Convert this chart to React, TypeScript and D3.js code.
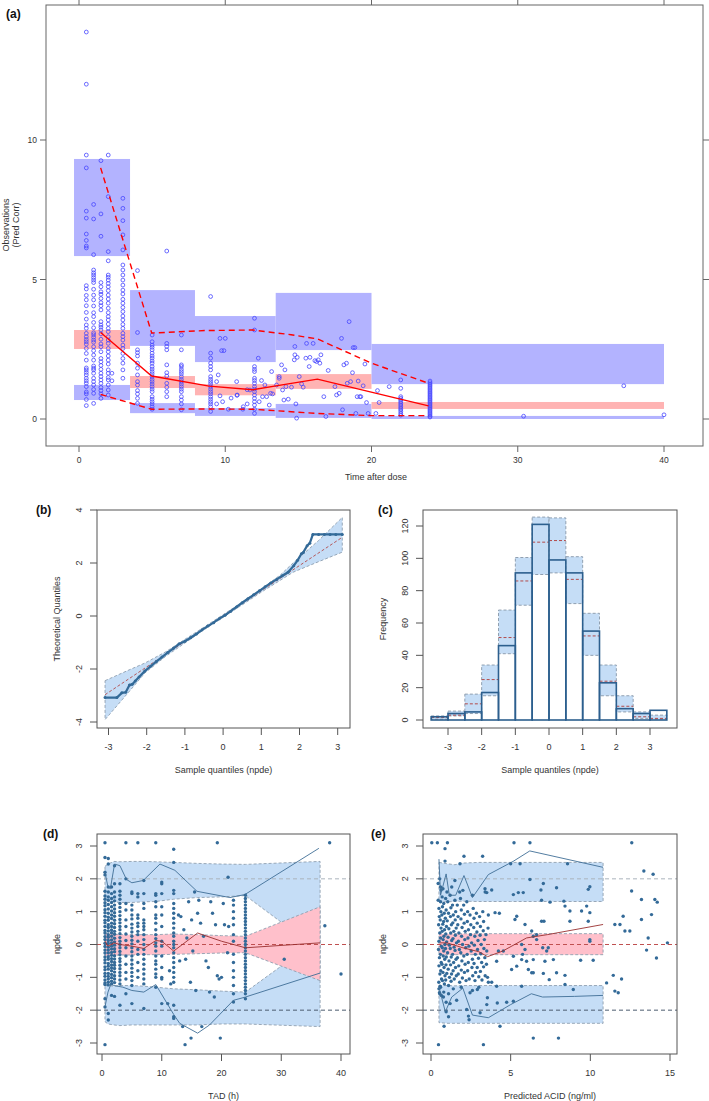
import * as d3 from "d3";

const FONT = "'Liberation Sans', Arial, Helvetica, sans-serif";
const NARROW = "'Liberation Sans Narrow', 'Liberation Sans', Arial, sans-serif";

// ---------- panel (a): prediction-corrected VPC ----------
const aTicksX = [0, 10, 20, 30, 40];
const aTicksY = [0, 5, 10];
const aBinStart = [-0.34, 3.49, 7.93, 13.45, 20.0];
const aBinEnd = [3.49, 7.93, 13.45, 20.0, 40.0];
const aUpperPI = [[5.84, 9.32], [2.62, 4.62], [2.04, 3.69], [2.47, 4.52], [1.25, 2.69]];
const aMedianPI = [[2.51, 3.19], [1.11, 1.54], [0.85, 1.25], [1.08, 1.61], [0.36, 0.61]];
const aLowerPI = [[0.68, 1.22], [0.21, 0.57], [0.11, 0.39], [0.04, 0.54], [0.0, 0.11]];
const aObsMedian = [[1.48, 3.1], [3.0, 2.42], [4.97, 1.54], [8.9, 1.18], [11.9, 1.05], [14.2, 1.25], [16.3, 1.43], [21.9, 0.72], [23.9, 0.47]];
const aObsUpper = [[1.48, 9.0], [4.97, 3.08], [8.6, 3.17], [11.9, 3.19], [14.5, 3.02], [16.3, 2.87], [20.0, 2.0], [23.9, 1.28]];
const aObsLower = [[1.48, 0.88], [4.97, 0.35], [8.6, 0.36], [11.9, 0.35], [16.3, 0.2], [20.0, 0.12], [23.9, 0.12]];
const aColTimes = [0.5, 1, 1.5, 2, 3, 4, 5, 6, 7, 9, 12, 22, 24];
const aColValues = [
  [13.87, 12.0, 9.46, 9.0, 7.45, 7.2, 6.63, 6.4, 6.2, 6.13, 4.78, 4.66, 4.43, 4.27, 4.06, 3.82, 3.58, 3.37, 3.25, 3.07, 2.95, 2.85, 2.77, 2.68, 2.53, 2.35, 2.11, 1.83, 1.76, 1.67, 1.58, 1.46, 1.37, 1.28, 1.16, 0.97, 0.9, 0.7, 0.48],
  [7.69, 7.17, 5.89, 5.34, 5.24, 5.16, 5.07, 4.98, 4.89, 4.65, 4.44, 4.27, 4.05, 3.81, 3.67, 3.46, 3.27, 3.09, 3.02, 2.93, 2.83, 2.75, 2.59, 2.45, 2.29, 2.11, 1.9, 1.82, 1.76, 1.64, 1.46, 1.34, 1.22, 1.06, 0.92, 0.56],
  [9.26, 7.35, 6.55, 4.89, 4.74, 4.56, 4.47, 4.32, 4.17, 4.06, 3.91, 3.49, 3.37, 3.29, 3.19, 3.05, 2.86, 2.69, 2.59, 2.41, 2.17, 2.05, 1.92, 1.78, 1.64, 1.52, 1.4, 1.28, 1.13, 1.02, 0.9, 0.74],
  [9.46, 7.97, 6.0, 5.67, 5.16, 5.08, 4.98, 4.86, 4.74, 4.6, 4.44, 4.3, 4.15, 3.97, 3.81, 3.67, 3.55, 3.4, 3.25, 3.13, 2.95, 2.83, 2.71, 2.53, 2.41, 2.26, 2.11, 1.97, 1.76, 1.64, 1.49, 1.4, 1.22, 1.04, 0.86],
  [7.91, 7.55, 7.11, 6.6, 6.06, 5.52, 5.34, 5.16, 4.98, 4.8, 4.62, 4.48, 4.29, 4.15, 4.0, 3.85, 3.69, 3.55, 3.39, 3.25, 3.07, 2.95, 2.83, 2.65, 2.53, 2.35, 2.17, 2.0, 1.76, 1.46],
  [5.32, 3.1, 2.48, 2.38, 2.26, 2.0, 1.82, 1.58, 1.34, 1.22, 1.02, 0.9, 0.74, 0.56],
  [3.01, 2.77, 2.65, 2.57, 2.48, 2.36, 2.26, 2.18, 2.08, 2.0, 1.88, 1.79, 1.7, 1.62, 1.52, 1.42, 1.34, 1.25, 1.16, 1.07, 0.98, 0.8, 0.71, 0.62, 0.54, 0.44, 0.35],
  [6.02, 2.71, 2.6, 2.48, 1.94, 1.66, 1.54, 1.28, 1.14, 0.98, 0.8],
  [3.01, 2.48, 1.94, 1.88, 1.78, 1.7, 1.62, 1.52, 1.42, 1.34, 1.25, 1.16, 1.07, 0.98, 0.8, 0.68, 0.54, 0.33],
  [4.39, 2.36, 2.18, 2.0, 1.88, 1.76, 1.52, 1.42, 1.34, 1.26, 1.16, 1.07, 0.98, 0.9, 0.8, 0.71, 0.62, 0.54, 0.44, 0.27],
  [3.61, 3.19, 1.88, 1.78, 1.7, 1.46, 1.38, 1.28, 1.16, 1.07, 0.98, 0.86, 0.74, 0.62, 0.5, 0.35, 0.2],
  [1.4, 1.1, 0.8, 0.74, 0.68, 0.62, 0.56, 0.5, 0.44, 0.38, 0.33, 0.27, 0.2, 0.14],
  [1.36, 1.3, 1.25, 1.2, 1.15, 1.1, 1.05, 1.0, 0.95, 0.9, 0.85, 0.8, 0.75, 0.7, 0.65, 0.6, 0.55, 0.5, 0.45, 0.4, 0.35, 0.3, 0.25, 0.2, 0.15, 0.1, 0.07],
];
const aScatter = [
  [2.25, 1.37], [2.25, 1.64], [9.64, 2.89], [9.75, 2.45], [9.91, 2.45], [9.52, 1.58], [9.41, 1.34], [9.64, 0.83], [9.41, 0.54], [9.82, 0.62],
  [10.21, 0.35], [10.78, 1.34], [10.82, 0.86], [11.23, 0.44], [11.5, 0.54], [11.69, 1.04], [12.32, 0.62], [12.26, 2.18], [12.48, 1.38], [12.55, 0.8],
  [12.71, 1.22], [12.83, 0.8], [13.01, 0.5], [13.1, 0.92], [13.17, 1.7], [13.24, 0.9], [13.51, 1.22], [13.69, 1.46], [13.85, 1.94], [13.92, 1.04],
  [14.08, 1.76], [14.15, 1.16], [14.31, 0.71], [14.53, 1.14], [14.76, 2.6], [14.76, 2.3], [14.92, 2.21], [14.72, 2.12], [15.06, 1.52], [15.22, 1.26],
  [15.33, 1.14], [15.51, 2.18], [15.56, 2.71], [15.79, 2.21], [15.74, 1.88], [16.01, 2.71], [16.13, 2.09], [16.24, 2.06], [16.36, 2.12], [16.54, 2.3],
  [16.47, 2.0], [16.74, 0.8], [16.88, 0.09], [17.04, 1.74], [17.5, 1.16], [17.61, 0.86], [17.79, 0.92], [17.95, 2.89], [18.02, 0.33], [18.11, 1.94],
  [18.29, 2.0], [18.34, 1.28], [18.47, 3.49], [18.57, 1.34], [18.7, 1.66], [18.75, 2.56], [18.86, 2.56], [18.93, 0.2], [19.02, 0.8], [19.09, 1.36],
  [19.2, 0.8], [19.27, 0.8], [19.43, 1.19], [19.55, 1.97], [19.66, 0.59], [19.77, 0.2], [20.3, 0.2], [20.41, 1.02], [20.52, 0.59], [21.21, 1.16],
  [14.88, 0.03], [14.83, 0.54], [14.01, 0.68], [13.69, 1.52], [10.0, 2.89], [10.4, 0.75], [10.8, 0.85], [11.5, 1.05], [11.2, 0.35],
  [30.4, 0.1], [37.25, 1.19], [40.0, 0.15],
];

// ---------- panel (b): QQ plot ----------
const bTicksX = [-3, -2, -1, 0, 1, 2, 3];
const bTicksY = [-4, -2, 0, 2, 4];
const bBandX = [-3.09, -2.5, -2.04, -1.5, -1.0, -0.5, 0, 0.5, 1.0, 1.5, 1.83, 2.5, 3.12];
const bBandLo = [-3.91, -2.92, -2.14, -1.52, -1.02, -0.52, -0.05, 0.42, 0.9, 1.35, 1.65, 2.05, 2.41];
const bBandHi = [-2.44, -2.06, -1.77, -1.35, -0.88, -0.42, 0.05, 0.52, 1.02, 1.55, 2.0, 2.85, 3.72];
const bExpected = [[-3.09, -2.97], [0, 0], [3.12, 2.97]];
const bObserved = [
  [-3.09, -3.08], [-2.78, -3.08], [-2.65, -2.9], [-2.55, -2.88], [-2.45, -2.6], [-2.38, -2.58], [-2.3, -2.45], [-2.2, -2.3], [-2.05, -2.08],
  [-1.9, -1.9], [-1.75, -1.72], [-1.6, -1.55], [-1.45, -1.38], [-1.3, -1.22], [-1.15, -1.05], [-1.0, -0.95], [-0.85, -0.82], [-0.7, -0.68],
  [-0.55, -0.52], [-0.4, -0.38], [-0.25, -0.25], [-0.1, -0.1], [0.05, 0.03], [0.2, 0.18], [0.35, 0.34], [0.5, 0.5], [0.65, 0.65], [0.8, 0.8],
  [0.95, 0.95], [1.1, 1.1], [1.25, 1.25], [1.4, 1.38], [1.55, 1.52], [1.7, 1.65], [1.85, 1.9], [1.95, 2.1], [2.05, 2.35], [2.1, 2.4],
  [2.2, 2.65], [2.27, 2.75], [2.35, 3.08], [2.5, 3.08], [2.65, 3.08], [2.8, 3.08], [2.95, 3.08], [3.12, 3.08],
];

// ---------- panel (c): histogram ----------
const cTicksX = [-3, -2, -1, 0, 1, 2, 3];
const cTicksY = [0, 20, 40, 60, 80, 100, 120];
const cBinStart = [-3.5, -3.0, -2.5, -2.0, -1.5, -1.0, -0.5, 0.0, 0.5, 1.0, 1.5, 2.0, 2.5, 3.0];
const cObserved = [2, 4, 5, 17, 46, 91, 121, 99, 91, 55, 23, 7, 4, 6];
const cPILow = [0.5, 2.5, 4, 15, 41, 71, 90, 91, 72, 40, 15, 5, 1, 0.5];
const cPIHigh = [2.5, 5.5, 16, 34, 68, 100.5, 125.5, 125, 101, 66, 34, 15, 5, 3];
const cPIMedian = [1.5, 3, 10, 25, 51, 86, 110, 111, 87, 52, 24, 8.5, 2, 1];

// ---------- panel (d): npde vs TAD ----------
const dTicksX = [0, 10, 20, 30, 40];
const npdeTicks = [-3, -2, -1, 0, 1, 2, 3];
const dBandX = [0.5, 1.0, 2.0, 3.0, 5.0, 7.0, 9.0, 12.0, 16.0, 20.0, 24.0, 36.5];
const dUpHi = [2.38, 2.45, 2.53, 2.52, 2.53, 2.53, 2.52, 2.5, 2.47, 2.45, 2.44, 2.53];
const dUpLo = [1.37, 1.33, 1.3, 1.28, 1.28, 1.3, 1.31, 1.38, 1.43, 1.45, 1.49, -0.2];
const dMidHi = [0.35, 0.33, 0.32, 0.3, 0.3, 0.3, 0.3, 0.32, 0.3, 0.27, 0.25, 1.15];
const dMidLo = [-0.35, -0.34, -0.33, -0.32, -0.32, -0.31, -0.31, -0.3, -0.28, -0.26, -0.25, -1.1];
const dLowHi = [-1.25, -1.25, -1.27, -1.25, -1.25, -1.27, -1.3, -1.35, -1.38, -1.42, -1.45, 0.2];
const dLowLo = [-2.35, -2.42, -2.45, -2.47, -2.45, -2.45, -2.45, -2.45, -2.45, -2.42, -2.42, -2.5];
const dObsUpper = [[0.5, 2.2], [1.0, 1.75], [1.4, 1.7], [2.1, 2.45], [3.0, 2.4], [4.1, 1.98], [5.0, 1.88], [6.9, 1.95], [9.7, 2.45], [12.2, 2.26], [15.9, 1.62], [21.4, 1.43], [23.9, 1.52], [36.3, 2.93]];
const dObsMedian = [[0.5, 0.1], [1.0, -0.05], [2.0, 0.05], [3.0, 0.0], [5.0, -0.05], [7.0, -0.12], [9.0, 0.12], [10.0, 0.1], [12.0, -0.2], [16.0, 0.35], [20.0, 0.1], [24.0, -0.1], [36.5, 0.05]];
const dObsLower = [[0.5, -1.9], [1.0, -1.45], [1.5, -1.2], [2.0, -1.25], [3.5, -1.3], [5.0, -1.4], [7.0, -1.45], [9.0, -1.22], [12.0, -2.13], [13.0, -2.4], [16.0, -2.7], [18.0, -2.45], [22.0, -1.7], [24.0, -1.6], [36.5, -0.87]];
const dColTimes = [0.5, 1.05, 1.6, 2.1, 3.0, 4.0, 5.0, 6.0, 7.0, 9.0, 10.0, 12.0, 22.0, 24.0];
const dColValues = [
  [2.65, 2.2, 2.12, 1.62, 1.48, 1.38, 1.27, 1.18, 1.06, 0.97, 0.86, 0.74, 0.66, 0.55, 0.43, 0.35, 0.24, 0.15, 0.04, -0.06, -0.17, -0.26, -0.38, -0.47, -0.56, -0.68, -0.77, -0.88, -0.97, -1.08, -1.17, -1.22, -1.65, -1.9, -3.05],
  [2.62, 2.45, 1.75, 1.6, 1.45, 1.35, 1.22, 1.08, 0.95, 0.83, 0.74, 0.6, 0.52, 0.41, 0.3, 0.22, 0.12, 0.03, -0.08, -0.17, -0.26, -0.37, -0.45, -0.58, -0.66, -0.75, -0.88, -0.97, -1.05, -1.15, -1.23, -2.1, -2.3],
  [1.75, 1.55, 1.4, 1.28, 1.15, 1.02, 0.9, 0.79, 0.65, 0.55, 0.44, 0.36, 0.25, 0.14, 0.05, -0.05, -0.14, -0.24, -0.33, -0.43, -0.52, -0.62, -0.71, -0.8, -0.91, -1.01, -1.12, -1.2, -1.55],
  [2.4, 1.85, 1.6, 1.45, 1.33, 1.2, 1.08, 0.97, 0.86, 0.74, 0.63, 0.52, 0.4, 0.31, 0.19, 0.08, -0.02, -0.13, -0.22, -0.34, -0.44, -0.55, -0.63, -0.73, -0.84, -0.95, -1.05, -1.16, -1.58],
  [1.85, 1.62, 1.5, 1.38, 1.25, 1.13, 1.0, 0.88, 0.76, 0.66, 0.55, 0.45, 0.33, 0.21, 0.1, 0.0, -0.1, -0.21, -0.31, -0.43, -0.52, -0.63, -0.74, -0.85, -0.95, -1.08, -1.2, -1.85],
  [2.0, 1.25, 1.05, 0.75, 0.55, 0.32, 0.12, -0.1, -0.35, -0.6, -0.85, -1.05, -1.5],
  [1.6, 1.55, 1.2, 1.05, 0.9, 0.78, 0.62, 0.5, 0.38, 0.25, 0.13, 0.02, -0.1, -0.22, -0.35, -0.47, -0.6, -0.72, -0.85, -0.97, -1.1, -1.25, -1.8],
  [1.55, 1.45, 0.9, 0.8, 0.65, 0.55, 0.4, 0.3, 0.1, -0.15, -0.3, -0.55, -0.8, -1.0],
  [1.95, 1.55, 1.25, 1.1, 0.75, 0.65, 0.55, 0.45, 0.3, 0.15, 0.0, -0.15, -0.3, -0.45, -0.6, -0.75, -0.9, -1.05, -1.2, -1.95],
  [1.55, 1.5, 1.3, 1.15, 0.9, 0.8, 0.65, 0.45, 0.3, 0.18, 0.05, -0.05, -0.2, -0.35, -0.5, -0.6, -0.75, -0.9, -1.0, -1.3],
  [1.9, 1.85, 1.55, 1.15, 0.9, 0.55, 0.1, -0.05, -0.35, -0.7, -1.0, -1.05, -1.8],
  [2.9, 2.5, 1.65, 1.55, 1.25, 1.1, 0.95, 0.8, 0.65, 0.5, 0.35, 0.25, 0.1, 0.0, -0.1, -0.25, -0.4, -0.55, -0.7, -0.85, -1.0, -1.15, -1.85, -2.2, -2.25],
  [1.35, 1.2, 1.0, 0.8, 0.6, 0.3, 0.1, -0.3, -0.55, -0.8, -1.0, -1.25, -1.5, -1.75],
  [1.5, 1.4, 1.3, 1.2, 1.1, 1.0, 0.9, 0.8, 0.7, 0.6, 0.5, 0.4, 0.3, 0.2, 0.1, 0.0, -0.1, -0.2, -0.3, -0.4, -0.5, -0.6, -0.7, -0.8, -0.9, -1.0, -1.1, -1.2, -1.3, -1.4, -1.5, -1.65],
];
const dScatter = [
  [0.5, 3.1], [4.0, 3.1], [6.0, 3.1], [9.0, 3.1], [19.3, 3.1], [38.1, 3.1],
  [11.0, -1.8], [11.3, -0.8], [11.5, -1.2], [12.8, 0.9], [13.0, -0.5], [13.2, 0.85], [13.5, -2.5], [13.7, 0.45], [13.9, -3.05], [14.0, -0.45],
  [14.2, 0.2], [14.5, 1.3], [14.8, -1.15], [14.9, -2.85], [15.0, 0.75], [15.2, -0.2], [15.5, 1.6], [15.7, -1.4], [16.0, 0.95], [16.2, 1.35],
  [16.5, 0.65], [16.7, -2.5], [17.0, 0.25], [17.4, -0.5], [17.8, -0.7], [18.0, -1.45], [18.2, 1.3], [18.5, 0.95], [18.8, -1.6], [19.0, 0.6],
  [19.3, -0.95], [19.6, -1.05], [19.8, -2.85], [20.0, -1.0], [20.3, 1.25], [20.5, 0.6], [21.1, 2.05], [21.2, 0.55], [21.0, -0.25],
  [30.5, -0.45], [37.3, 0.57], [40.0, -0.9],
];

// ---------- panel (e): npde vs predicted concentration ----------
const eTicksX = [0, 5, 10, 15];
const eBandX = [0.5, 1.0, 1.5, 2.0, 3.0, 5.0, 7.0, 10.8];
const eUpHi = [2.5, 2.46, 2.43, 2.48, 2.5, 2.5, 2.5, 2.5];
const eUpLo = [1.3, 1.3, 1.31, 1.32, 1.31, 1.31, 1.31, 1.31];
const eMidHi = [0.33, 0.32, 0.33, 0.33, 0.33, 0.33, 0.33, 0.33];
const eMidLo = [-0.31, -0.31, -0.31, -0.31, -0.31, -0.31, -0.31, -0.31];
const eLowHi = [-1.25, -1.25, -1.26, -1.25, -1.25, -1.25, -1.25, -1.25];
const eLowLo = [-2.38, -2.4, -2.4, -2.4, -2.4, -2.4, -2.4, -2.4];
const eObsUpper = [[0.5, 2.6], [0.6, 1.5], [0.95, 2.15], [1.15, 1.5], [1.55, 1.5], [2.07, 2.1], [2.6, 1.43], [3.6, 2.13], [5.15, 2.53], [6.2, 2.85], [10.8, 2.35]];
const eObsMedian = [[0.55, 0.05], [1.0, 0.05], [2.0, -0.1], [3.0, -0.22], [3.55, -0.37], [4.5, -0.2], [6.0, 0.2], [7.3, 0.3], [10.8, 0.61]];
const eObsLower = [[0.5, -1.3], [0.9, -2.05], [1.3, -1.6], [2.0, -1.33], [2.6, -2.15], [3.6, -2.23], [5.0, -1.83], [6.3, -1.5], [7.0, -1.6], [9.0, -1.58], [10.8, -1.55]];
const ePoints = [
  [0.05, 3.1], [0.4, 3.1], [1.03, 3.1], [5.21, 3.1], [6.21, 3.1], [12.6, 3.1],
  [0.88, 2.92], [0.88, 2.54], [2.07, 2.69], [3.24, 2.69], [1.82, 2.46], [5.0, 2.46], [5.59, 2.46], [8.57, 2.46], [6.21, 1.98], [7.05, 1.86],
  [13.36, 2.24], [13.94, 2.14], [9.97, 1.76], [0.45, 1.86], [0.63, 1.66], [5.17, 1.52], [5.48, 1.58], [5.79, 1.58], [6.9, 1.66], [6.94, 1.35],
  [7.47, 1.29], [8.34, 1.32], [8.41, 1.17], [8.72, 1.02], [8.72, 0.71], [9.45, 1.02], [9.77, 1.17], [9.97, 0.97], [9.87, 1.68], [12.59, 1.63],
  [13.21, 1.37], [13.21, 0.76], [13.84, 0.91], [14.05, 1.37], [14.2, 1.29], [12.48, 0.41], [12.17, 0.41], [12.06, 0.86], [11.86, 0.61],
  [11.54, 0.61], [13.63, 0.2], [13.53, -0.17], [14.15, -0.41], [14.84, 0.05], [11.44, -0.94], [11.96, -1.05], [11.02, -1.17], [11.54, -1.42],
  [11.75, -1.47], [6.42, -2.85], [8.0, -2.85], [4.33, -2.49], [3.29, -3.05], [0.47, -3.05], [0.82, -2.49], [9.87, 0.71], [9.97, 0.15],
  [9.97, 0.1], [9.39, -0.48], [10.18, -0.48], [8.93, -1.37], [8.41, -0.94], [8.41, -1.22], [5.06, -0.76], [5.38, -0.66], [5.69, -0.46],
  [6.0, -0.51], [6.11, -0.76], [6.32, -0.86], [6.42, -0.86], [7.15, -0.51], [7.26, -0.2], [7.36, -0.1], [6.63, 0.15], [6.42, 0.25],
  [5.9, -0.15], [5.75, -0.3], [5.38, 0.86], [5.27, 0.76], [5.9, 0.61], [6.32, 0.41], [6.94, 0.71], [7.09, 0.71], [6.63, 0.3], [4.12, -0.51],
  [4.23, -0.2], [4.54, -0.2], [4.29, 0.95], [5.17, -0.36], [5.69, 0.0], [6.42, -0.46], [7.01, -0.1], [7.68, -0.46], [5.17, -1.73],
  [4.75, -1.76], [3.5, -1.83], [3.54, -1.62], [4.16, -1.78], [4.12, -1.27], [3.6, -1.15], [3.81, -1.15], [2.91, -1.37], [2.45, -1.47],
  [2.24, -1.98], [2.35, -2.18], [2.39, -2.29], [3.08, -2.08], [1.61, -1.7], [1.2, -1.8], [0.95, -1.76], [0.78, -1.6], [0.57, -1.27],
  [0.53, -1.47], [5.69, -1.27], [7.42, -1.07], [7.88, -0.86], [7.88, 1.73], [3.81, 1.66], [3.5, 1.58], [3.39, 1.7], [4.02, 0.97], [7.05, -0.88],
  [0.45, 1.35], [0.5, 1.1], [0.52, 0.85], [0.48, 0.6], [0.55, 0.35], [0.5, 0.1], [0.47, -0.15], [0.53, -0.4], [0.5, -0.65], [0.56, -0.9],
  [0.49, -1.15], [0.6, 1.3], [0.62, 1.0], [0.58, 0.75], [0.63, 0.5], [0.6, 0.2], [0.65, -0.05], [0.59, -0.3], [0.64, -0.55], [0.61, -0.8],
  [0.66, -1.05], [0.6, -1.3], [0.7, 1.45], [0.72, 1.15], [0.68, 0.9], [0.74, 0.62], [0.7, 0.4], [0.76, 0.15], [0.71, -0.1], [0.77, -0.35],
  [0.69, -0.6], [0.75, -0.85], [0.72, -1.1], [0.8, 1.25], [0.83, 0.95], [0.79, 0.7], [0.85, 0.45], [0.81, 0.25], [0.87, 0.0], [0.8, -0.2],
  [0.86, -0.45], [0.82, -0.7], [0.88, -0.95], [0.84, -1.2], [0.92, 1.4], [0.95, 1.05], [0.9, 0.8], [0.97, 0.55], [0.93, 0.32], [0.98, 0.08],
  [0.91, -0.12], [0.96, -0.38], [0.94, -0.62], [0.99, -0.88], [0.92, -1.08], [1.05, 1.3], [1.1, 0.95], [1.02, 0.72], [1.12, 0.48], [1.07, 0.22],
  [1.15, -0.02], [1.04, -0.25], [1.13, -0.5], [1.08, -0.75], [1.16, -1.0], [1.1, -1.25], [1.2, 1.5], [1.25, 1.12], [1.22, 0.85], [1.28, 0.6],
  [1.24, 0.35], [1.3, 0.12], [1.21, -0.12], [1.27, -0.38], [1.23, -0.62], [1.29, -0.9], [1.26, -1.12], [1.35, 1.2], [1.4, 0.9], [1.37, 0.66],
  [1.43, 0.4], [1.38, 0.18], [1.45, -0.08], [1.36, -0.3], [1.42, -0.55], [1.39, -0.8], [1.46, -1.05], [1.5, 1.35], [1.55, 1.0], [1.52, 0.75],
  [1.58, 0.5], [1.53, 0.28], [1.6, 0.05], [1.51, -0.18], [1.57, -0.45], [1.54, -0.7], [1.59, -0.95], [1.65, 1.2], [1.7, 0.85], [1.68, 0.6],
  [1.75, 0.35], [1.72, 0.1], [1.78, -0.15], [1.66, -0.4], [1.74, -0.65], [1.71, -0.9], [1.8, -1.15], [1.85, 1.4], [1.9, 1.05], [1.88, 0.78],
  [1.95, 0.52], [1.92, 0.25], [1.98, 0.0], [1.87, -0.25], [1.94, -0.5], [1.9, -0.78], [1.97, -1.02], [2.05, 1.2], [2.1, 0.92], [2.08, 0.65],
  [2.15, 0.4], [2.12, 0.15], [2.18, -0.1], [2.06, -0.35], [2.14, -0.6], [2.1, -0.85], [2.2, -1.1], [2.25, 1.3], [2.3, 1.0], [2.28, 0.7],
  [2.35, 0.45], [2.32, 0.2], [2.38, -0.05], [2.27, -0.3], [2.34, -0.55], [2.3, -0.8], [2.4, -1.05], [2.45, 0.9], [2.5, 0.6], [2.48, 0.3],
  [2.55, 0.05], [2.52, -0.2], [2.6, -0.45], [2.57, -0.7], [2.62, -0.95], [2.65, 1.1], [2.7, 0.8], [2.68, 0.52], [2.75, 0.25], [2.72, -0.02],
  [2.78, -0.3], [2.7, -0.58], [2.8, -0.85], [2.76, -1.1], [2.85, 0.95], [2.9, 0.65], [2.88, 0.38], [2.95, 0.12], [2.92, -0.15], [2.98, -0.42],
  [2.9, -0.7], [3.0, -0.98], [3.05, 0.85], [3.1, 0.55], [3.08, 0.28], [3.15, 0.0], [3.12, -0.28], [3.18, -0.55], [3.1, -0.82], [3.2, -1.08],
  [3.25, 1.0], [3.3, 0.7], [3.28, 0.42], [3.35, 0.15], [3.32, -0.12], [3.38, -0.4], [3.3, -0.68], [3.4, -0.95], [3.45, 0.3], [3.5, -0.2],
  [3.48, -0.6], [3.55, -1.0], [3.6, 0.9], [3.58, 0.5],
  [0.55, 2.0], [0.6, 1.75], [0.75, 1.7], [1.0, 1.6], [1.3, 1.75], [1.5, 1.95], [1.8, 1.6], [2.0, 1.65], [2.6, 1.5], [3.4, 1.6],
  [0.5, -1.35], [0.55, -1.5], [0.65, -1.55], [0.8, -1.45], [1.1, -1.5], [1.4, -1.35], [1.9, -1.3], [2.6, -1.4], [3.0, -1.3], [0.95, -2.05], [1.1, -2.2],
];

const BLUE_BAND = "#c5ddf6";
const PINK_BAND = "#ffc0cb";
const DARK = "#336a98";
const GREYDASH = "#8f9fb0";

type Box = { l: number; r: number; t: number; b: number };

function Frame({ box, xs, ys, xTicks, yTicks, xLab, yLab, tag, tagX }: any) {
  return (
    <g fontFamily={FONT} fill="#333">
      <rect x={box.l} y={box.t} width={box.r - box.l} height={box.b - box.t} fill="none" stroke="#555" strokeWidth={1} />
      {xTicks.map((t: number) => (
        <g key={"x" + t}>
          <line x1={xs(t)} x2={xs(t)} y1={box.b} y2={box.b + 7} stroke="#555" />
          <text x={xs(t)} y={box.b + 22} fontSize={9} textAnchor="middle">{t}</text>
        </g>
      ))}
      {yTicks.map((t: number) => (
        <g key={"y" + t}>
          <line x1={box.l - 7} x2={box.l} y1={ys(t)} y2={ys(t)} stroke="#555" />
          <text transform={`translate(${box.l - 18},${ys(t)}) rotate(-90)`} fontSize={9} textAnchor="middle" dominantBaseline="central">{t}</text>
        </g>
      ))}
      <text x={(box.l + box.r) / 2} y={box.b + 45} fontSize={9} textAnchor="middle">{xLab}</text>
      <text transform={`translate(${box.l - 40},${(box.t + box.b) / 2}) rotate(-90)`} fontSize={9} textAnchor="middle" dominantBaseline="central">{yLab}</text>
      <text x={tagX} y={box.t + 4} fontSize={12} fontWeight="bold" fill="#111">{tag}</text>
    </g>
  );
}

function bandPath(xs: any, ys: any, bx: number[], lo: number[], hi: number[]) {
  const idx = bx.map((_, i) => i);
  return d3.area<number>().x((i) => xs(bx[i])).y0((i) => ys(lo[i])).y1((i) => ys(hi[i]))(idx) || "";
}

function PanelA() {
  const box: Box = { l: 46, r: 703, t: 5, b: 446 };
  const x = d3.scaleLinear().domain([0, 40]).range([79, 664]);
  const y = d3.scaleLinear().domain([0, 10]).range([419, 140]);
  const line = d3.line<number[]>().x((d) => x(d[0])).y((d) => y(d[1]));
  const pts: number[][] = [];
  aColTimes.forEach((t, i) => aColValues[i].forEach((v) => pts.push([t, v])));
  aScatter.forEach((p) => pts.push(p));
  const rect = (i: number, pi: number[][], fill: string) => (
    <rect x={x(aBinStart[i])} width={x(aBinEnd[i]) - x(aBinStart[i])} y={y(pi[i][1])} height={y(pi[i][0]) - y(pi[i][1])} fill={fill} />
  );
  return (
    <g>
      {aBinStart.map((_, i) => (
        <g key={i}>
          {rect(i, aUpperPI, "#b3b3ff")}
          {rect(i, aLowerPI, "#b3b3ff")}
          {rect(i, aMedianPI, "#ffb3b3")}
        </g>
      ))}
      {pts.map((p, i) => (
        <circle key={i} cx={x(p[0])} cy={y(p[1])} r={1.9} fill="none" stroke="#4646ff" strokeWidth={0.8} />
      ))}
      <path d={line(aObsMedian) || ""} fill="none" stroke="#ff0000" strokeWidth={1.4} />
      <path d={line(aObsUpper) || ""} fill="none" stroke="#ff0000" strokeWidth={1.4} strokeDasharray="6 4" />
      <path d={line(aObsLower) || ""} fill="none" stroke="#ff0000" strokeWidth={1.4} strokeDasharray="6 4" />
      <rect x={box.l} y={box.t} width={box.r - box.l} height={box.b - box.t} fill="none" stroke="#666" />
      <g fontFamily={NARROW} fill="#333" fontSize={8.5}>
        {aTicksX.map((t) => (
          <g key={t}>
            <line x1={x(t)} x2={x(t)} y1={box.b} y2={box.b + 6} stroke="#666" />
            <line x1={x(t)} x2={x(t)} y1={0} y2={box.t} stroke="#666" />
            <text x={x(t)} y={box.b + 17} textAnchor="middle">{t}</text>
          </g>
        ))}
        {aTicksY.map((t) => (
          <g key={t}>
            <line x1={box.l - 6} x2={box.l} y1={y(t)} y2={y(t)} stroke="#666" />
            <line x1={box.r} x2={box.r + 6} y1={y(t)} y2={y(t)} stroke="#666" />
            <text x={box.l - 9} y={y(t)} textAnchor="end" dominantBaseline="central">{t}</text>
          </g>
        ))}
        <text x={376} y={480} textAnchor="middle" fontSize={9}>Time after dose</text>
        <text transform={`translate(6,225) rotate(-90)`} textAnchor="middle" dominantBaseline="central" fontSize={9}>Observations</text>
        <text transform={`translate(16,225) rotate(-90)`} textAnchor="middle" dominantBaseline="central" fontSize={9}>(Pred Corr)</text>
      </g>
      <text x={6} y={18} fontFamily={FONT} fontSize={12} fontWeight="bold" fill="#111">(a)</text>
    </g>
  );
}

function PanelB() {
  const box: Box = { l: 97, r: 350, t: 510, b: 728 };
  const x = d3.scaleLinear().domain([-3, 3]).range([108.5, 337.7]);
  const y = d3.scaleLinear().domain([-4, 4]).range([722, 510]);
  const line = d3.line<number[]>().x((d) => x(d[0])).y((d) => y(d[1]));
  return (
    <g>
      <path d={bandPath(x, y, bBandX, bBandLo, bBandHi)} fill={BLUE_BAND} stroke={GREYDASH} strokeDasharray="3 2" strokeWidth={0.9} />
      <path d={line(bExpected) || ""} fill="none" stroke="#b24a4a" strokeWidth={0.9} strokeDasharray="3 2" />
      <path d={line(bObserved) || ""} fill="none" stroke={DARK} strokeWidth={2.2} />
      {bObserved.map((p, i) => (
        <circle key={i} cx={x(p[0])} cy={y(p[1])} r={1.5} fill={DARK} />
      ))}
      <Frame box={box} xs={x} ys={y} xTicks={bTicksX} yTicks={bTicksY} xLab="Sample quantiles (npde)" yLab="Theoretical Quantiles" tag="(b)" tagX={36} />
    </g>
  );
}

function PanelC() {
  const box: Box = { l: 423, r: 677, t: 510, b: 728 };
  const x = d3.scaleLinear().domain([-3, 3]).range([448, 650]);
  const y = d3.scaleLinear().domain([0, 120]).range([720, 526]);
  const w = x(0.5) - x(0);
  return (
    <g>
      {cBinStart.map((s, i) => (
        <g key={i}>
          <rect x={x(s)} width={w} y={y(cPIHigh[i])} height={y(cPILow[i]) - y(cPIHigh[i])} fill={BLUE_BAND} stroke={GREYDASH} strokeDasharray="3 2" strokeWidth={1} />
          <line x1={x(s)} x2={x(s) + w} y1={y(cPIMedian[i])} y2={y(cPIMedian[i])} stroke="#b24a4a" strokeDasharray="3 2" strokeWidth={1} />
        </g>
      ))}
      {cBinStart.map((s, i) => (
        <rect key={"o" + i} x={x(s)} width={w} y={y(cObserved[i])} height={y(0) - y(cObserved[i])} fill="none" stroke="#2c5f8e" strokeWidth={1.6} />
      ))}
      <Frame box={box} xs={x} ys={y} xTicks={cTicksX} yTicks={cTicksY} xLab="Sample quantiles (npde)" yLab="Frequency" tag="(c)" tagX={378} />
    </g>
  );
}

function NpdePanel({ box, x, bx, up, mid, low, obs, pts, xTicks, xLab, tag, tagX }: any) {
  const y = d3.scaleLinear().domain([-3, 3]).range([1043, 846]);
  const line = d3.line<number[]>().x((d) => x(d[0])).y((d) => y(d[1]));
  return (
    <g>
      <path d={bandPath(x, y, bx, up[0], up[1])} fill={BLUE_BAND} stroke={GREYDASH} strokeDasharray="3 2" strokeWidth={0.9} />
      <path d={bandPath(x, y, bx, low[0], low[1])} fill={BLUE_BAND} stroke={GREYDASH} strokeDasharray="3 2" strokeWidth={0.9} />
      <path d={bandPath(x, y, bx, mid[0], mid[1])} fill={PINK_BAND} stroke={GREYDASH} strokeDasharray="3 2" strokeWidth={0.9} />
      <line x1={box.l} x2={box.r} y1={y(2)} y2={y(2)} stroke="#aab3bd" strokeDasharray="4 3" />
      <line x1={box.l} x2={box.r} y1={y(0)} y2={y(0)} stroke="#c05050" strokeDasharray="4 3" />
      <line x1={box.l} x2={box.r} y1={y(-2)} y2={y(-2)} stroke="#4d5d70" strokeDasharray="4 3" />
      {pts.map((p: number[], i: number) => (
        <circle key={i} cx={x(p[0])} cy={y(p[1])} r={1.7} fill={DARK} />
      ))}
      <path d={line(obs[0]) || ""} fill="none" stroke="#3f6e96" strokeWidth={0.9} />
      <path d={line(obs[1]) || ""} fill="none" stroke="#9a2f2f" strokeWidth={0.9} />
      <path d={line(obs[2]) || ""} fill="none" stroke="#3f6e96" strokeWidth={0.9} />
      <Frame box={box} xs={x} ys={y} xTicks={xTicks} yTicks={npdeTicks} xLab={xLab} yLab="npde" tag={tag} tagX={tagX} />
    </g>
  );
}

export default function App() {
  const dPts: number[][] = [];
  dColTimes.forEach((t, i) => dColValues[i].forEach((v) => dPts.push([t, v])));
  dScatter.forEach((p) => dPts.push(p));
  const xd = d3.scaleLinear().domain([0, 40]).range([102, 341]);
  const xe = d3.scaleLinear().domain([0, 15]).range([431, 670]);
  return (
    <svg width={709} height={1101} style={{ position: "absolute", left: 0, top: 0, background: "#fff" }}>
      <rect width={709} height={1101} fill="#fff" />
      <PanelA />
      <PanelB />
      <PanelC />
      <NpdePanel
        box={{ l: 97, r: 350, t: 834, b: 1054 }}
        x={xd}
        bx={dBandX}
        up={[dUpLo, dUpHi]}
        mid={[dMidLo, dMidHi]}
        low={[dLowLo, dLowHi]}
        obs={[dObsUpper, dObsMedian, dObsLower]}
        pts={dPts}
        xTicks={dTicksX}
        xLab="TAD (h)"
        tag="(d)"
        tagX={43}
      />
      <NpdePanel
        box={{ l: 423, r: 677, t: 834, b: 1054 }}
        x={xe}
        bx={eBandX}
        up={[eUpLo, eUpHi]}
        mid={[eMidLo, eMidHi]}
        low={[eLowLo, eLowHi]}
        obs={[eObsUpper, eObsMedian, eObsLower]}
        pts={ePoints}
        xTicks={eTicksX}
        xLab="Predicted ACID (ng/ml)"
        tag="(e)"
        tagX={371}
      />
    </svg>
  );
}
